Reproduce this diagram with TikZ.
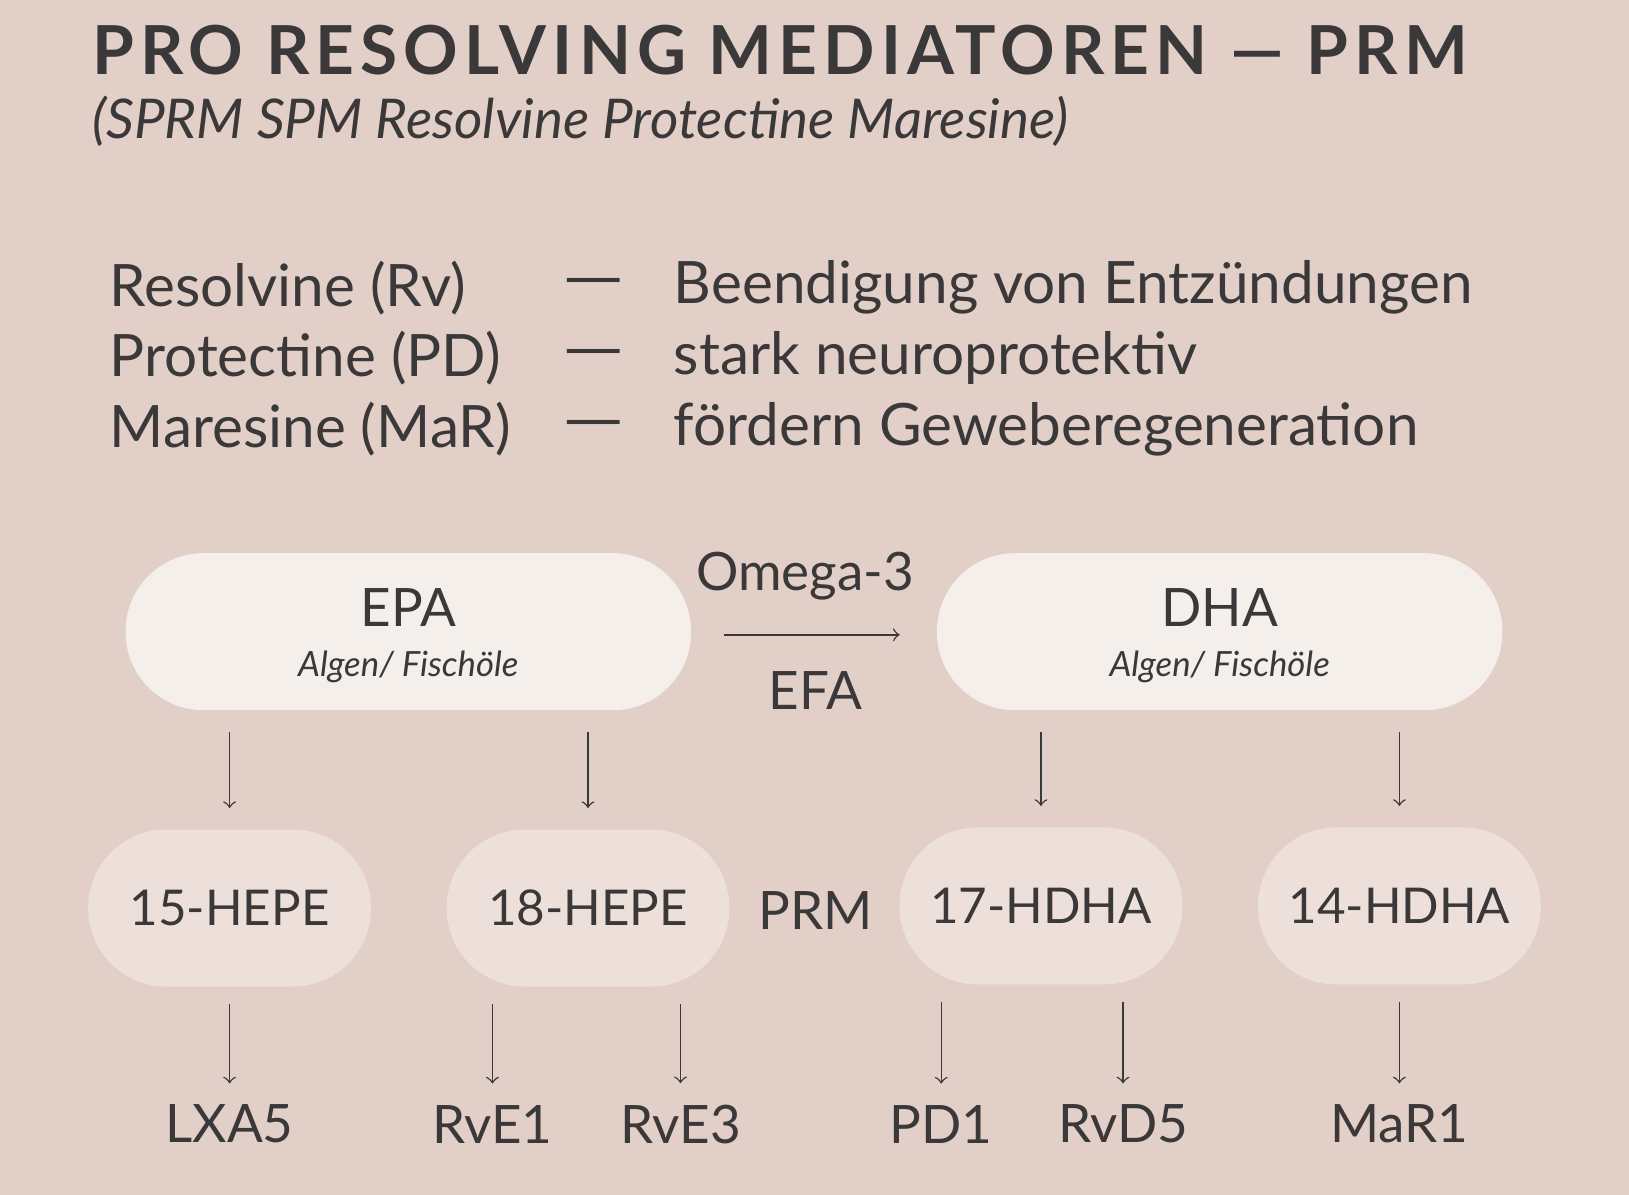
\documentclass[tikz,border=0pt]{standalone}
\usepackage{fontspec}
\setmainfont{Lato}
\newfontfamily\dashfont{DejaVu Sans}
\usetikzlibrary{positioning}
\definecolor{bgrose}{HTML}{E2CFC7}
\definecolor{pillhi}{HTML}{F5EFEC}
\definecolor{pilllo}{HTML}{EDE0DB}
\definecolor{ink}{HTML}{3A3838}
\tikzset{
  bigpill/.style={fill=pillhi, rounded corners=0.75cm, minimum width=5.44cm, minimum height=1.51cm, inner sep=0pt},
  pill/.style={fill=pilllo, rounded corners=0.75cm, minimum width=2.72cm, minimum height=1.51cm, font=\fontsize{13.5}{14}\selectfont},
  label/.style={font=\fontsize{14.5}{15}\selectfont, inner sep=0pt},
  row/.style={font=\fontsize{16}{16}\selectfont, anchor=west, inner sep=0pt},
  down/.style={->, thin, shorten <=0.2cm, shorten >=0.2cm}
}
\begin{document}
\begin{tikzpicture}[x=0.01cm, y=-0.01cm, text=ink, draw=ink]
\fill[bgrose] (0,0) rectangle (1568,1150);
\useasboundingbox (0,0) rectangle (1568,1150);

%% title
\node[anchor=base west, inner sep=0pt, font=\fontsize{18.5}{20}\bfseries\addfontfeature{LetterSpace=9}\selectfont] (title) at (88,72) {PRO RESOLVING MEDIATOREN — PRM};
\node[anchor=base west, inner sep=0pt, font=\fontsize{15}{15}\itshape\selectfont] (sub) at (88,133) {(SPRM SPM Resolvine Protectine Maresine)};

%% table
\node[row] (rv) at (105,277) {Resolvine (Rv)};
\node[row] (pd) at (105,345) {Protectine (PD)};
\node[row] (mar) at (105,413) {Maresine (MaR)};
\foreach \y in {277,345,413} \node[row] at (543,\y) {\dashfont —};
\node[row] (rvt) at (648,277) {Beendigung von Entzündungen};
\node[row] (pdt) at (648,345) {stark neuroprotektiv};
\node[row] (mart) at (648,413) {fördern Geweberegeneration};

%% sources
\node[bigpill] (epa) at (393,608) {};
\node[label] at (393,585) {EPA};
\node[font=\fontsize{9.5}{10}\itshape\selectfont, inner sep=0pt] at (393,642) {Algen/ Fischöle};
\node[bigpill] (dha) at (1174,608) {};
\node[label] at (1174,585) {DHA};
\node[font=\fontsize{9.5}{10}\itshape\selectfont, inner sep=0pt] at (1174,642) {Algen/ Fischöle};

\node[label] (omega) at (775,555) {Omega-3};
\node[label] (efa) at (785,665) {EFA};
\coordinate (ea) at (697,611);
\coordinate (eb) at (866,611);
\draw[->, thin] (ea) -- (eb);

%% intermediates
\node[pill] (h15) at (221,874) {15-HEPE};
\node[pill] (h18) at (566,874) {18-HEPE};
\node[pill] (h17) at (1002,872) {17-HDHA};
\node[pill] (h14) at (1347,872) {14-HDHA};
\node[label] (prm) at (785,876) {PRM};

\draw[down] (h15.north |- epa.south) -- (h15.north);
\draw[down] (h18.north |- epa.south) -- (h18.north);
\draw[down] (h17.north |- dha.south) -- (h17.north);
\draw[down] (h14.north |- dha.south) -- (h14.north);

%% products
\node[label] (lxa) at (221,1082) {LXA5};
\node[label] (rve1) at (474,1082) {RvE1};
\node[label] (rve3) at (655,1082) {RvE3};
\node[label] (pd1) at (906,1082) {PD1};
\node[label] (rvd5) at (1081,1082) {RvD5};
\node[label] (mar1) at (1347,1082) {MaR1};

\foreach \a/\b in {h15/lxa, h18/rve1, h18/rve3, h17/pd1, h17/rvd5, h14/mar1}
  \draw[down, shorten <=0.16cm, shorten >=0.2cm] (\b.north |- \a.south) -- (\b.north);
\end{tikzpicture}
\end{document}
